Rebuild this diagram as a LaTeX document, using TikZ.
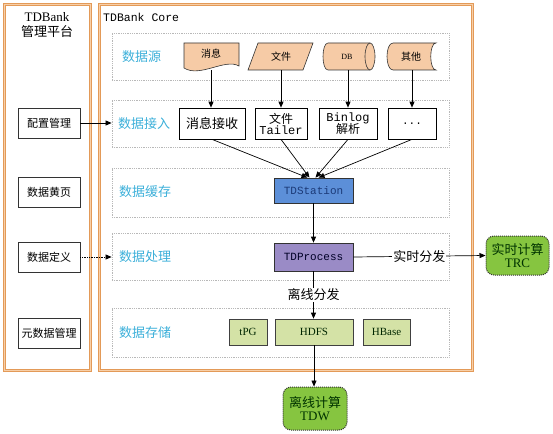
\documentclass[tikz,border=0pt]{standalone}
\usepackage{fontspec}
\setmainfont{Liberation Serif}
\newfontfamily\cjk{Noto Sans CJK SC}
\newfontfamily\monofnt{Liberation Mono}
\usetikzlibrary{arrows.meta,calc}
\definecolor{panelor}{HTML}{E39A58}
\definecolor{panelin}{HTML}{F7CFA8}
\definecolor{bandgray}{HTML}{B8B8B8}
\definecolor{bandlbl}{HTML}{3BAFD9}
\definecolor{peach}{HTML}{F6CBA6}
\definecolor{stblue}{HTML}{5C8FD8}
\definecolor{stbluetx}{HTML}{1C3A78}
\definecolor{prpurple}{HTML}{9A8BC6}
\definecolor{ltgreen}{HTML}{D4E2A6}
\definecolor{dkgreen}{HTML}{86C540}
\newcommand{\fsz}[1]{\fontsize{#1}{#1}\selectfont}
\begin{document}
\begin{tikzpicture}[x=1pt,y=-1pt,
  panel/.style={draw=panelor,double=panelin,double distance=1pt,line width=1pt},
  band/.style={draw=bandgray,densely dotted,line width=0.8pt,minimum width=337pt,minimum height=47pt,inner sep=0pt},
  bandlabel/.style={text=bandlbl,font=\cjk\fsz{13},anchor=west,inner sep=0pt},
  mgmt/.style={draw=black!80,line width=0.7pt,minimum width=62pt,minimum height=30pt,inner sep=0pt,font=\cjk\fsz{11}},
  acc/.style={draw=black,line width=0.7pt,minimum height=31pt,inner sep=0pt,align=center},
  src/.style={fill=peach,draw=black!80,line width=0.6pt},
  srctext/.style={inner sep=0pt,font=\cjk\fsz{10}},
  core/.style={draw=black!80,line width=0.7pt,minimum width=79pt,inner sep=0pt,font=\monofnt\fsz{11}},
  store/.style={fill=ltgreen,draw=black!75,line width=0.7pt,minimum height=26pt,inner sep=0pt,font=\fsz{11},text=black!85!green},
  calcbox/.style={fill=dkgreen,draw=black!80,densely dotted,line width=1pt,rounded corners=8pt,align=center,inner sep=0pt,font=\fsz{13},text=black!80!green},
  arr/.style={-{Triangle[length=6pt,width=5pt]},line width=0.7pt,draw=black},
  lbl/.style={fill=white,inner sep=1pt,font=\cjk\fsz{13}}
]
\useasboundingbox (0,0) rectangle (553,433);

% panels
\draw[panel] (4,5) rectangle (90,370);
\draw[panel] (99,5) rectangle (472,370);
\node[align=center,inner sep=0pt,font=\fsz{13}] (mtitle) at (47,25) {TDBank\\[2pt]{\cjk 管理平台}};
\node[anchor=west,inner sep=0pt,font=\monofnt\fsz{11.5}] (ctitle) at (103,17) {TDBank Core};

% bands
\node[band] (b1) at (280.5,57) {};
\node[band] (b2) at (280.5,123.5) {};
\node[band,minimum height=49pt] (b3) at (280.5,192.5) {};
\node[band] (b4) at (280.5,256.5) {};
\node[band,minimum height=49pt] (b5) at (280.5,332.5) {};
\node[bandlabel] (l1) at (122,57) {数据源};
\node[bandlabel] (l2) at (118,124) {数据接入};
\node[bandlabel] (l3) at (119,192) {数据缓存};
\node[bandlabel] (l4) at (119,257) {数据处理};
\node[bandlabel] (l5) at (119,333) {数据存储};

% management boxes
\node[mgmt] (cfg) at (49,123) {配置管理};
\node[mgmt] (yp) at (49,192) {数据黄页};
\node[mgmt] (def) at (49,257) {数据定义};
\node[mgmt] (meta) at (49,333) {元数据管理};

% source shapes
\draw[src] (184,43) -- (239,43) -- (239,66) .. controls (225,58) and (200,78) .. (184,68) -- cycle;
\node[srctext,minimum height=27pt] (msg) at (211,56.5) {};
\node[srctext] (msgt) at (211,54) {消息};
\draw[src] (258,43) -- (313,43) -- (303,70) -- (248,70) -- cycle;
\node[srctext,minimum height=27pt] (file) at (281,56.5) {文件};
\draw[src] (328,70) .. controls (321.33,70) and (321.33,43) .. (328,43) -- (370,43) -- (370,70) -- cycle;
\draw[src] (370,56.5) ellipse [x radius=5pt, y radius=13.5pt];
\node[srctext,minimum height=27pt,font=\fsz{8}] (db) at (347,56.5) {DB};
\draw[src] (393,43) -- (436,43) .. controls (429,43) and (429,70) .. (436,70) -- (393,70) .. controls (385,70) and (385,43) .. (393,43) -- cycle;
\node[srctext,minimum height=27pt] (oth) at (411,56.5) {其他};

% access boxes
\node[acc,minimum width=66pt,font=\cjk\fsz{13}] (a1) at (212,123.5) {消息接收};
\node[acc,minimum width=52pt,font=\fsz{12}] (a2) at (281,123.5) {{\cjk 文件}\\[-1pt]{\monofnt Tailer}};
\node[acc,minimum width=58pt,font=\fsz{12}] (a3) at (348,123.5) {{\monofnt Binlog}\\[-1pt]{\cjk 解析}};
\node[acc,minimum width=48pt,font=\monofnt\fsz{11}] (a4) at (412,123.5) {...};

% core boxes
\node[core,fill=stblue,text=stbluetx,minimum height=25pt] (ts) at (313.5,190.5) {TDStation};
\node[core,fill=prpurple,text=black!85!blue,minimum height=28pt] (tp) at (313.5,257) {TDProcess};

% storage
\node[store,minimum width=38pt] (tpg) at (248,332) {tPG};
\node[store,minimum width=78pt] (hdfs) at (314,332) {HDFS};
\node[store,minimum width=47pt] (hbase) at (386.5,332) {HBase};

% compute
\node[calcbox,minimum width=63pt,minimum height=39pt] (trc) at (517.5,255.5) {{\cjk 实时计算}\\TRC};
\node[calcbox,minimum width=64pt,minimum height=43pt] (tdw) at (315,408.5) {{\cjk 离线计算}\\TDW};

% arrows
\draw[arr] (cfg.east) -- (b2.west |- cfg.east);
\draw[arr,densely dotted] (def.east) -- (b4.west |- def.east);
\draw[arr] (msg.south) -- (a1.north -| msg.south);
\draw[arr] (file.south) -- (a2.north);
\draw[arr] (db.south -| a3.north) -- (a3.north);
\draw[arr] (oth.south -| a4.north) -- (a4.north);
\coordinate (c1) at ($(ts.north)+(-6,0)$);
\coordinate (c2) at ($(ts.north)+(-4,0)$);
\coordinate (c3) at ($(ts.north)+(2,0)$);
\coordinate (c4) at ($(ts.north)+(5,0)$);
\draw[arr] (a1.south) -- (c1);
\draw[arr] (a2.south) -- (c2);
\draw[arr] (a3.south) -- (c3);
\draw[arr] (a4.south) -- (c4);
\draw[arr] (ts.south) -- (tp.north);
\draw[arr] (tp.east) -- node[lbl] (rt) {实时分发} (trc.west);
\draw[arr] (tp.south) -- node[lbl] (off) {离线分发} (hdfs.north -| tp.south);
\draw[arr] (hdfs.south) -- (tdw.north -| hdfs.south);
\end{tikzpicture}
\end{document}
